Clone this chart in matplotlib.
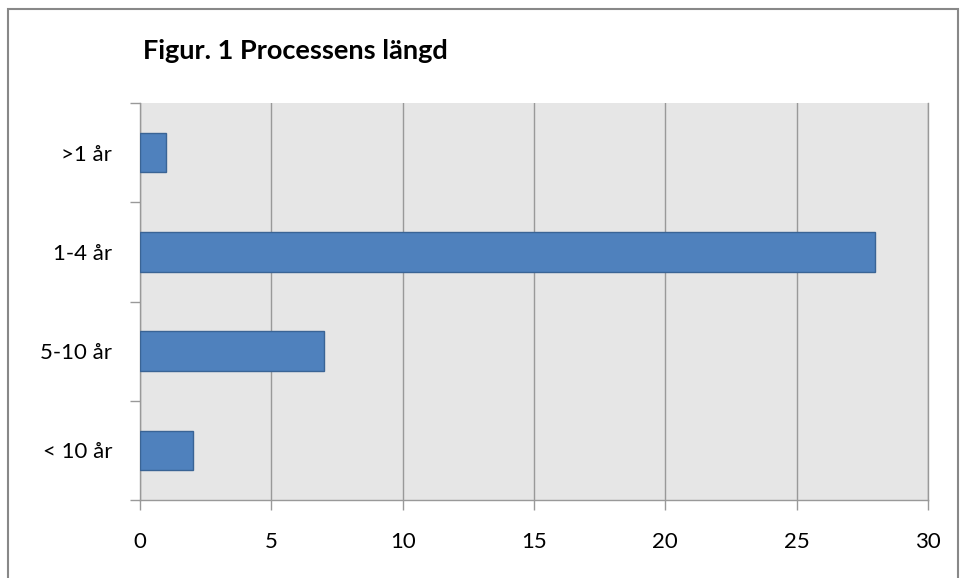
import matplotlib.pyplot as plt
from matplotlib.patches import Rectangle

# Data
categories = ["< 10 år", "5-10 år", "1-4 år", ">1 år"]
values = [2, 7, 28, 1]
xticks = [0, 5, 10, 15, 20, 25, 30]

plt.rcParams['font.family'] = ['Lato', 'DejaVu Sans']

fig = plt.figure(figsize=(9.6, 5.78), dpi=100)
ax = fig.add_axes([140 / 960, 78 / 578, 788 / 960, 397 / 578])

grid_col = "#999999"
ax.set_facecolor("#e6e6e6")

ypos = list(range(len(categories)))
ax.barh(ypos, values, height=0.4, color="#4f81bd", edgecolor="#3a6495",
        linewidth=1, zorder=3)

ax.set_xlim(0, 30)
ax.set_ylim(-0.5, len(categories) - 0.5)
ax.set_xticks(xticks)
ax.set_xticklabels([str(t) for t in xticks], fontsize=16)
ax.set_yticks(ypos)
ax.set_yticklabels(categories, fontsize=16)

# category boundary ticks on the y axis
ax.set_yticks([y - 0.5 for y in range(len(categories) + 1)], minor=True)
ax.tick_params(axis='y', which='major', length=0, pad=20)
ax.tick_params(axis='y', which='minor', length=7, color=grid_col, width=1)
ax.tick_params(axis='x', which='major', length=7, color=grid_col, width=1, pad=16)

ax.grid(axis='x', color=grid_col, linewidth=1, zorder=0)
ax.set_axisbelow(True)

ax.spines['top'].set_visible(False)
for side in ['left', 'bottom', 'right']:
    ax.spines[side].set_color(grid_col)
    ax.spines[side].set_linewidth(1)

fig.text(143 / 960, 1 - 51 / 578, "Figur. 1 Processens längd", fontsize=19.5,
         fontweight='bold', va='center', ha='left')

# outer chart border
fig.patches.append(Rectangle((8 / 960, -0.05), 950 / 960, 1 - 9 / 578 + 0.05,
                             transform=fig.transFigure, fill=False,
                             edgecolor="#888888", linewidth=1.5))

fig.savefig("out.png", dpi=100)
